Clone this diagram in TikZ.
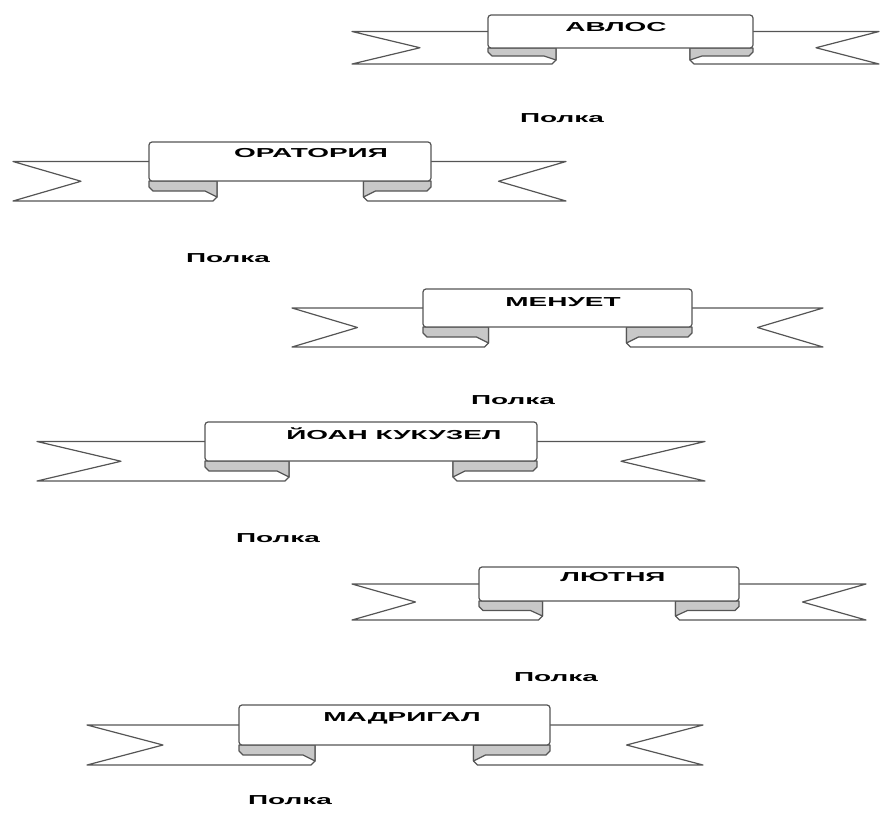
\documentclass[tikz,border=0pt]{standalone}
\usepackage{fontspec}
\usepackage{tikz}
\usetikzlibrary{calc}
\newfontfamily\ribbonfont[FakeStretch=2.15]{Liberation Sans}
\definecolor{ribbongray}{RGB}{85,85,85}
\definecolor{foldgray}{RGB}{200,200,200}
\tikzset{
 ribbonline/.style={draw=ribbongray, line width=1.2pt, line join=round},
 foldfill/.style={ribbonline, fill=foldgray},
 boxfill/.style={ribbonline, fill=white, rounded corners=3pt},
 labeltext/.style={font=\ribbonfont\bfseries\fontsize{13}{15}\selectfont, inner sep=0pt},
 shelftext/.style={font=\ribbonfont\bfseries\fontsize{13}{15}\selectfont, inner sep=0pt}
}
% tip left, box left, box right, tip right, box top, box bottom, tail bottom
\newcommand*{\ribbon}[7]{
 \pgfmathsetmacro{\midy}{(#5+#6)/2}
 \pgfmathsetmacro{\notchy}{(\midy+#7)/2}
 \pgfmathsetmacro{\foldy}{(#6+#7)/2}
 \pgfmathsetmacro{\nl}{(#1+#2)/2}
 \pgfmathsetmacro{\nr}{(#3+#4)/2}
 \pgfmathsetmacro{\fl}{#2+(#2-#1)/2}
 \pgfmathsetmacro{\fr}{#3-(#4-#3)/2}
 \draw[ribbonline] (#2,\midy) -- (#1,\midy) -- (\nl,\notchy) -- (#1,#7) -- (\fl-4,#7) -- (\fl,#7-4) -- (\fl,#6);
 \draw[ribbonline] (#3,\midy) -- (#4,\midy) -- (\nr,\notchy) -- (#4,#7) -- (\fr+4,#7) -- (\fr,#7-4) -- (\fr,#6);
 \draw[foldfill] (#2,#6) -- (\fl,#6) -- (\fl,#7-4) -- (\fl-12,\foldy) -- (#2+4,\foldy) -- (#2,\foldy-4) -- cycle;
 \draw[foldfill] (#3,#6) -- (\fr,#6) -- (\fr,#7-4) -- (\fr+12,\foldy) -- (#3-4,\foldy) -- (#3,\foldy-4) -- cycle;
 \draw[boxfill] (#2,#5) rectangle (#3,#6);
}

\begin{document}
\begin{tikzpicture}[x=1pt, y=-1pt]
 \useasboundingbox (0,0) rectangle (884,828);
 \ribbon{352}{488}{753}{879}{15}{48}{64}
 \ribbon{13}{149}{431}{566}{142}{181}{201}
 \ribbon{292}{423}{692}{823}{289}{327}{347}
 \ribbon{37}{205}{537}{705}{422}{461}{481}
 \ribbon{352}{479}{739}{866}{567}{601}{620}
 \ribbon{87}{239}{550}{703}{705}{745}{765}

 \node[labeltext] (avlos) at (616,27.5) {АВЛОС};
 \node[labeltext] (oratoria) at (311,153.5) {ОРАТОРИЯ};
 \node[labeltext] (menuet) at (563,302) {МЕНУЕТ};
 \node[labeltext] (kukuzel) at (394,434) {ЙОАН КУКУЗЕЛ};
 \node[labeltext] (liutnia) at (613,577.5) {ЛЮТНЯ};
 \node[labeltext] (madrigal) at (402,718.5) {МАДРИГАЛ};

 \node[shelftext] (polka1) at (562,118) {Полка};
 \node[shelftext] (polka2) at (228,258) {Полка};
 \node[shelftext] (polka3) at (513,400) {Полка};
 \node[shelftext] (polka4) at (278,538) {Полка};
 \node[shelftext] (polka5) at (556,677) {Полка};
 \node[shelftext] (polka6) at (290,800) {Полка};
\end{tikzpicture}
\end{document}
